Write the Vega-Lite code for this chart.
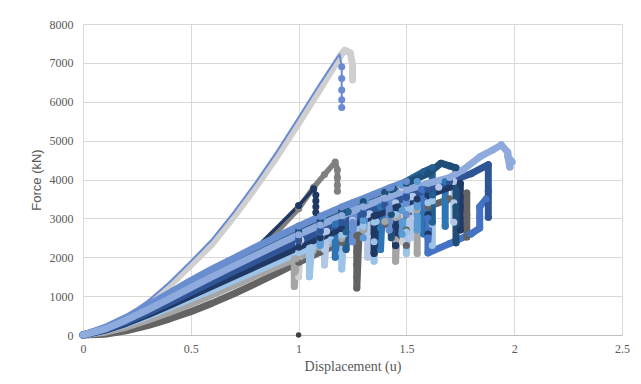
{
  "$schema": "https://vega.github.io/schema/vega-lite/v6.json",
  "width": 539,
  "height": 311,
  "autosize": "none",
  "padding": {"left": 83, "top": 24, "right": 19, "bottom": 49},
  "background": "white",
  "config": {"view": {"stroke": null}},
  "data": {"values": [
    {"s":"s01","x":0,"y":0},{"s":"s01","x":0.05,"y":40},{"s":"s01","x":0.1,"y":150},{"s":"s01","x":0.2,"y":430},{"s":"s01","x":0.3,"y":800},{"s":"s01","x":0.4,"y":1270},{"s":"s01","x":0.5,"y":1800},{"s":"s01","x":0.6,"y":2350},{"s":"s01","x":0.7,"y":3050},{"s":"s01","x":0.8,"y":3800},{"s":"s01","x":0.9,"y":4600},{"s":"s01","x":1.0,"y":5450},{"s":"s01","x":1.1,"y":6330},{"s":"s01","x":1.2,"y":7230},{"s":"s01","x":1.215,"y":7330},{"s":"s01","x":1.24,"y":7260},{"s":"s01","x":1.25,"y":6950},{"s":"s01","x":1.25,"y":6560},
    {"s":"s02","x":0,"y":0},{"s":"s02","x":0.05,"y":60},{"s":"s02","x":0.1,"y":180},{"s":"s02","x":0.2,"y":480},{"s":"s02","x":0.3,"y":870},{"s":"s02","x":0.4,"y":1350},{"s":"s02","x":0.5,"y":1900},{"s":"s02","x":0.6,"y":2470},{"s":"s02","x":0.7,"y":3170},{"s":"s02","x":0.8,"y":3920},{"s":"s02","x":0.9,"y":4730},{"s":"s02","x":1.0,"y":5600},{"s":"s02","x":1.1,"y":6480},{"s":"s02","x":1.18,"y":7150},{"s":"s02","x":1.19,"y":7220},{"s":"s02","x":1.2,"y":6900},{"s":"s02","x":1.2,"y":6600},{"s":"s02","x":1.2,"y":6300},{"s":"s02","x":1.2,"y":6050},{"s":"s02","x":1.2,"y":5850},
    {"s":"s03","x":0,"y":0},{"s":"s03","x":0.1,"y":80},{"s":"s03","x":0.2,"y":230},{"s":"s03","x":0.3,"y":430},{"s":"s03","x":0.4,"y":680},{"s":"s03","x":0.5,"y":960},{"s":"s03","x":0.6,"y":1290},{"s":"s03","x":0.7,"y":1650},{"s":"s03","x":0.77,"y":2000},{"s":"s03","x":0.85,"y":2420},{"s":"s03","x":0.91,"y":2720},{"s":"s03","x":1.0,"y":3250},{"s":"s03","x":1.07,"y":3800},{"s":"s03","x":1.12,"y":4130},{"s":"s03","x":1.17,"y":4450},{"s":"s03","x":1.18,"y":4250},{"s":"s03","x":1.18,"y":4050},{"s":"s03","x":1.18,"y":3850},{"s":"s03","x":1.18,"y":3700},
    {"s":"s04","x":0,"y":0},{"s":"s04","x":0.1,"y":100},{"s":"s04","x":0.2,"y":270},{"s":"s04","x":0.3,"y":480},{"s":"s04","x":0.4,"y":740},{"s":"s04","x":0.5,"y":1030},{"s":"s04","x":0.6,"y":1370},{"s":"s04","x":0.7,"y":1750},{"s":"s04","x":0.77,"y":2080},{"s":"s04","x":0.85,"y":2500},{"s":"s04","x":0.91,"y":2830},{"s":"s04","x":1.0,"y":3330},{"s":"s04","x":1.07,"y":3760},{"s":"s04","x":1.08,"y":3600},{"s":"s04","x":1.08,"y":3450},{"s":"s04","x":1.08,"y":3300},{"s":"s04","x":1.08,"y":3150},
    {"s":"s05","x":0,"y":0},{"s":"s05","x":0.1,"y":100},{"s":"s05","x":0.2,"y":260},{"s":"s05","x":0.3,"y":460},{"s":"s05","x":0.4,"y":690},{"s":"s05","x":0.5,"y":950},{"s":"s05","x":0.6,"y":1250},{"s":"s05","x":0.7,"y":1540},{"s":"s05","x":0.8,"y":1820},{"s":"s05","x":0.9,"y":2100},{"s":"s05","x":1.0,"y":2420},{"s":"s05","x":1.0,"y":1900},{"s":"s05","x":1.0,"y":1500},{"s":"s05","x":1.01,"y":2440},{"s":"s05","x":1.1,"y":2720},{"s":"s05","x":1.2,"y":3000},{"s":"s05","x":1.3,"y":3300},{"s":"s05","x":1.4,"y":3600},{"s":"s05","x":1.48,"y":3800},{"s":"s05","x":1.48,"y":3100},{"s":"s05","x":1.48,"y":2400},
    {"s":"s06","x":0,"y":0},{"s":"s06","x":0.1,"y":20},{"s":"s06","x":0.2,"y":110},{"s":"s06","x":0.3,"y":240},{"s":"s06","x":0.4,"y":410},{"s":"s06","x":0.5,"y":600},{"s":"s06","x":0.6,"y":820},{"s":"s06","x":0.7,"y":1060},{"s":"s06","x":0.8,"y":1320},{"s":"s06","x":0.9,"y":1590},{"s":"s06","x":1.0,"y":1870},{"s":"s06","x":1.1,"y":2130},{"s":"s06","x":1.2,"y":2380},{"s":"s06","x":1.27,"y":2550},{"s":"s06","x":1.27,"y":2150},{"s":"s06","x":1.27,"y":1800},{"s":"s06","x":1.27,"y":1500},{"s":"s06","x":1.27,"y":1210},{"s":"s06","x":1.28,"y":2570},{"s":"s06","x":1.4,"y":2850},{"s":"s06","x":1.5,"y":3080},{"s":"s06","x":1.5,"y":2700},{"s":"s06","x":1.5,"y":2300},{"s":"s06","x":1.51,"y":3100},{"s":"s06","x":1.6,"y":3300},{"s":"s06","x":1.7,"y":3500},{"s":"s06","x":1.78,"y":3650},{"s":"s06","x":1.78,"y":3100},{"s":"s06","x":1.78,"y":2520},
    {"s":"s07","x":0,"y":0},{"s":"s07","x":0.1,"y":70},{"s":"s07","x":0.2,"y":200},{"s":"s07","x":0.3,"y":380},{"s":"s07","x":0.4,"y":580},{"s":"s07","x":0.5,"y":800},{"s":"s07","x":0.6,"y":1030},{"s":"s07","x":0.7,"y":1270},{"s":"s07","x":0.8,"y":1520},{"s":"s07","x":0.9,"y":1760},{"s":"s07","x":0.98,"y":1950},{"s":"s07","x":0.98,"y":1600},{"s":"s07","x":0.98,"y":1250},{"s":"s07","x":0.99,"y":1970},{"s":"s07","x":1.1,"y":2250},{"s":"s07","x":1.2,"y":2480},{"s":"s07","x":1.3,"y":2700},{"s":"s07","x":1.4,"y":2920},{"s":"s07","x":1.45,"y":3020},{"s":"s07","x":1.45,"y":2450},{"s":"s07","x":1.45,"y":1900},{"s":"s07","x":1.46,"y":3040},{"s":"s07","x":1.55,"y":3220},{"s":"s07","x":1.55,"y":2650},{"s":"s07","x":1.55,"y":2100},
    {"s":"s08","x":0,"y":0},{"s":"s08","x":0.1,"y":110},{"s":"s08","x":0.2,"y":280},{"s":"s08","x":0.3,"y":480},{"s":"s08","x":0.4,"y":700},{"s":"s08","x":0.5,"y":930},{"s":"s08","x":0.6,"y":1160},{"s":"s08","x":0.7,"y":1400},{"s":"s08","x":0.8,"y":1640},{"s":"s08","x":0.9,"y":1880},{"s":"s08","x":1.0,"y":2120},{"s":"s08","x":1.05,"y":2230},{"s":"s08","x":1.05,"y":1850},{"s":"s08","x":1.05,"y":1500},{"s":"s08","x":1.06,"y":2250},{"s":"s08","x":1.15,"y":2450},{"s":"s08","x":1.2,"y":2570},{"s":"s08","x":1.2,"y":2100},{"s":"s08","x":1.2,"y":1700},{"s":"s08","x":1.21,"y":2590},{"s":"s08","x":1.3,"y":2800},{"s":"s08","x":1.35,"y":2900},{"s":"s08","x":1.35,"y":2400},{"s":"s08","x":1.35,"y":1900},{"s":"s08","x":1.36,"y":2920},{"s":"s08","x":1.45,"y":3100},{"s":"s08","x":1.5,"y":3200},{"s":"s08","x":1.5,"y":2650},{"s":"s08","x":1.5,"y":2100},{"s":"s08","x":1.51,"y":3220},{"s":"s08","x":1.6,"y":3400},{"s":"s08","x":1.62,"y":3450},{"s":"s08","x":1.62,"y":2850},{"s":"s08","x":1.62,"y":2300},
    {"s":"s09","x":0,"y":0},{"s":"s09","x":0.1,"y":130},{"s":"s09","x":0.2,"y":330},{"s":"s09","x":0.3,"y":560},{"s":"s09","x":0.4,"y":800},{"s":"s09","x":0.5,"y":1050},{"s":"s09","x":0.6,"y":1300},{"s":"s09","x":0.7,"y":1560},{"s":"s09","x":0.8,"y":1820},{"s":"s09","x":0.9,"y":2080},{"s":"s09","x":1.0,"y":2350},{"s":"s09","x":1.12,"y":2650},{"s":"s09","x":1.12,"y":2200},{"s":"s09","x":1.12,"y":1800},{"s":"s09","x":1.13,"y":2670},{"s":"s09","x":1.25,"y":2950},{"s":"s09","x":1.32,"y":3100},{"s":"s09","x":1.32,"y":2550},{"s":"s09","x":1.32,"y":2000},{"s":"s09","x":1.33,"y":3120},{"s":"s09","x":1.45,"y":3400},{"s":"s09","x":1.52,"y":3550},{"s":"s09","x":1.52,"y":3000},{"s":"s09","x":1.52,"y":2500},{"s":"s09","x":1.53,"y":3570},{"s":"s09","x":1.65,"y":3800},{"s":"s09","x":1.72,"y":3950},{"s":"s09","x":1.72,"y":3400},{"s":"s09","x":1.72,"y":2900},
    {"s":"s10","x":0,"y":0},{"s":"s10","x":0.1,"y":150},{"s":"s10","x":0.2,"y":370},{"s":"s10","x":0.3,"y":620},{"s":"s10","x":0.4,"y":880},{"s":"s10","x":0.5,"y":1150},{"s":"s10","x":0.6,"y":1420},{"s":"s10","x":0.7,"y":1690},{"s":"s10","x":0.8,"y":1950},{"s":"s10","x":0.9,"y":2200},{"s":"s10","x":1.0,"y":2450},{"s":"s10","x":1.1,"y":2680},{"s":"s10","x":1.17,"y":2850},{"s":"s10","x":1.17,"y":2400},{"s":"s10","x":1.17,"y":2000},{"s":"s10","x":1.18,"y":2870},{"s":"s10","x":1.3,"y":3120},{"s":"s10","x":1.38,"y":3300},{"s":"s10","x":1.38,"y":2750},{"s":"s10","x":1.38,"y":2200},{"s":"s10","x":1.39,"y":3320},{"s":"s10","x":1.5,"y":3550},{"s":"s10","x":1.58,"y":3720},{"s":"s10","x":1.58,"y":3150},{"s":"s10","x":1.58,"y":2600},{"s":"s10","x":1.59,"y":3740},{"s":"s10","x":1.68,"y":3950},{"s":"s10","x":1.68,"y":3400},{"s":"s10","x":1.68,"y":2800},
    {"s":"s11","x":0,"y":0},{"s":"s11","x":0.1,"y":120},{"s":"s11","x":0.2,"y":300},{"s":"s11","x":0.3,"y":520},{"s":"s11","x":0.4,"y":760},{"s":"s11","x":0.5,"y":1010},{"s":"s11","x":0.6,"y":1260},{"s":"s11","x":0.7,"y":1510},{"s":"s11","x":0.8,"y":1760},{"s":"s11","x":0.9,"y":2010},{"s":"s11","x":1.0,"y":2260},{"s":"s11","x":1.1,"y":2500},{"s":"s11","x":1.2,"y":2740},{"s":"s11","x":1.3,"y":2960},{"s":"s11","x":1.35,"y":3060},{"s":"s11","x":1.35,"y":2600},{"s":"s11","x":1.35,"y":2100},{"s":"s11","x":1.36,"y":3080},{"s":"s11","x":1.45,"y":3280},{"s":"s11","x":1.45,"y":2800},{"s":"s11","x":1.45,"y":2300},{"s":"s11","x":1.46,"y":3300},{"s":"s11","x":1.55,"y":3500},{"s":"s11","x":1.6,"y":3600},{"s":"s11","x":1.6,"y":3100},{"s":"s11","x":1.6,"y":2600},{"s":"s11","x":1.61,"y":3620},{"s":"s11","x":1.7,"y":3800},{"s":"s11","x":1.75,"y":3900},{"s":"s11","x":1.75,"y":3300},{"s":"s11","x":1.75,"y":2700},
    {"s":"s12","x":0,"y":0},{"s":"s12","x":0.1,"y":140},{"s":"s12","x":0.2,"y":350},{"s":"s12","x":0.3,"y":600},{"s":"s12","x":0.4,"y":880},{"s":"s12","x":0.5,"y":1150},{"s":"s12","x":0.6,"y":1430},{"s":"s12","x":0.7,"y":1700},{"s":"s12","x":0.8,"y":1970},{"s":"s12","x":0.9,"y":2230},{"s":"s12","x":1.0,"y":2480},{"s":"s12","x":1.1,"y":2730},{"s":"s12","x":1.2,"y":2950},{"s":"s12","x":1.3,"y":3180},{"s":"s12","x":1.4,"y":3400},{"s":"s12","x":1.5,"y":3600},{"s":"s12","x":1.57,"y":3750},{"s":"s12","x":1.6,"y":3000},{"s":"s12","x":1.6,"y":2500},{"s":"s12","x":1.6,"y":2110},{"s":"s12","x":1.7,"y":2350},{"s":"s12","x":1.8,"y":2600},{"s":"s12","x":1.84,"y":2750},{"s":"s12","x":1.84,"y":3050},{"s":"s12","x":1.84,"y":3300},{"s":"s12","x":1.87,"y":3500},
    {"s":"s13","x":0,"y":0},{"s":"s13","x":0.1,"y":170},{"s":"s13","x":0.2,"y":420},{"s":"s13","x":0.3,"y":720},{"s":"s13","x":0.4,"y":1030},{"s":"s13","x":0.5,"y":1350},{"s":"s13","x":0.6,"y":1650},{"s":"s13","x":0.7,"y":1950},{"s":"s13","x":0.8,"y":2230},{"s":"s13","x":0.9,"y":2500},{"s":"s13","x":1.0,"y":2780},{"s":"s13","x":1.1,"y":3000},{"s":"s13","x":1.1,"y":2650},{"s":"s13","x":1.1,"y":2300},{"s":"s13","x":1.11,"y":3010},{"s":"s13","x":1.2,"y":3200},{"s":"s13","x":1.3,"y":3430},{"s":"s13","x":1.3,"y":2950},{"s":"s13","x":1.3,"y":2500},{"s":"s13","x":1.31,"y":3440},{"s":"s13","x":1.4,"y":3650},{"s":"s13","x":1.48,"y":3850},{"s":"s13","x":1.48,"y":3200},{"s":"s13","x":1.48,"y":2600},{"s":"s13","x":1.49,"y":3860},{"s":"s13","x":1.55,"y":3950},{"s":"s13","x":1.55,"y":3300},{"s":"s13","x":1.55,"y":2700},
    {"s":"s14","x":0,"y":0},{"s":"s14","x":0.1,"y":150},{"s":"s14","x":0.2,"y":380},{"s":"s14","x":0.3,"y":650},{"s":"s14","x":0.4,"y":940},{"s":"s14","x":0.5,"y":1230},{"s":"s14","x":0.6,"y":1520},{"s":"s14","x":0.7,"y":1800},{"s":"s14","x":0.8,"y":2070},{"s":"s14","x":0.9,"y":2330},{"s":"s14","x":1.0,"y":2600},{"s":"s14","x":1.1,"y":2850},{"s":"s14","x":1.2,"y":3100},{"s":"s14","x":1.22,"y":3150},{"s":"s14","x":1.22,"y":2650},{"s":"s14","x":1.22,"y":2200},{"s":"s14","x":1.23,"y":3170},{"s":"s14","x":1.4,"y":3650},{"s":"s14","x":1.5,"y":3950},{"s":"s14","x":1.58,"y":4200},{"s":"s14","x":1.62,"y":4300},{"s":"s14","x":1.62,"y":3600},{"s":"s14","x":1.62,"y":2900},
    {"s":"s15","x":0,"y":0},{"s":"s15","x":0.1,"y":160},{"s":"s15","x":0.2,"y":400},{"s":"s15","x":0.3,"y":680},{"s":"s15","x":0.4,"y":980},{"s":"s15","x":0.5,"y":1280},{"s":"s15","x":0.6,"y":1570},{"s":"s15","x":0.7,"y":1860},{"s":"s15","x":0.8,"y":2140},{"s":"s15","x":0.9,"y":2410},{"s":"s15","x":1.0,"y":2680},{"s":"s15","x":1.1,"y":2940},{"s":"s15","x":1.2,"y":3190},{"s":"s15","x":1.3,"y":3430},{"s":"s15","x":1.4,"y":3670},{"s":"s15","x":1.43,"y":3740},{"s":"s15","x":1.43,"y":3100},{"s":"s15","x":1.43,"y":2500},{"s":"s15","x":1.44,"y":3760},{"s":"s15","x":1.5,"y":3900},{"s":"s15","x":1.6,"y":4150},{"s":"s15","x":1.66,"y":4420},{"s":"s15","x":1.7,"y":4350},{"s":"s15","x":1.73,"y":4300},{"s":"s15","x":1.73,"y":3300},{"s":"s15","x":1.73,"y":2370},
    {"s":"s16","x":0,"y":0},{"s":"s16","x":0.1,"y":130},{"s":"s16","x":0.2,"y":330},{"s":"s16","x":0.3,"y":570},{"s":"s16","x":0.4,"y":830},{"s":"s16","x":0.5,"y":1100},{"s":"s16","x":0.6,"y":1370},{"s":"s16","x":0.7,"y":1640},{"s":"s16","x":0.8,"y":1900},{"s":"s16","x":0.9,"y":2160},{"s":"s16","x":1.0,"y":2420},{"s":"s16","x":1.1,"y":2660},{"s":"s16","x":1.2,"y":2890},{"s":"s16","x":1.3,"y":3110},{"s":"s16","x":1.4,"y":3330},{"s":"s16","x":1.5,"y":3540},{"s":"s16","x":1.6,"y":3750},{"s":"s16","x":1.7,"y":3950},{"s":"s16","x":1.8,"y":4150},{"s":"s16","x":1.88,"y":4380},{"s":"s16","x":1.88,"y":3700},{"s":"s16","x":1.88,"y":3030},
    {"s":"s17","x":0,"y":0},{"s":"s17","x":0.1,"y":190},{"s":"s17","x":0.2,"y":450},{"s":"s17","x":0.3,"y":760},{"s":"s17","x":0.4,"y":1080},{"s":"s17","x":0.5,"y":1400},{"s":"s17","x":0.6,"y":1700},{"s":"s17","x":0.7,"y":1980},{"s":"s17","x":0.8,"y":2260},{"s":"s17","x":0.9,"y":2530},{"s":"s17","x":1.0,"y":2800},{"s":"s17","x":1.1,"y":3050},{"s":"s17","x":1.2,"y":3290},{"s":"s17","x":1.25,"y":3400},{"s":"s17","x":1.25,"y":2900},{"s":"s17","x":1.25,"y":2400},{"s":"s17","x":1.26,"y":3420},{"s":"s17","x":1.35,"y":3620},{"s":"s17","x":1.42,"y":3780},{"s":"s17","x":1.42,"y":3250},{"s":"s17","x":1.42,"y":2700},{"s":"s17","x":1.43,"y":3800},{"s":"s17","x":1.5,"y":3950},{"s":"s17","x":1.5,"y":3100},
    {"s":"s18","x":0,"y":0},{"s":"s18","x":0.1,"y":150},{"s":"s18","x":0.2,"y":380},{"s":"s18","x":0.3,"y":650},{"s":"s18","x":0.4,"y":930},{"s":"s18","x":0.5,"y":1220},{"s":"s18","x":0.6,"y":1500},{"s":"s18","x":0.7,"y":1780},{"s":"s18","x":0.8,"y":2050},{"s":"s18","x":0.9,"y":2320},{"s":"s18","x":1.0,"y":2580},{"s":"s18","x":1.1,"y":2830},{"s":"s18","x":1.2,"y":3070},{"s":"s18","x":1.3,"y":3300},{"s":"s18","x":1.4,"y":3520},{"s":"s18","x":1.5,"y":3730},{"s":"s18","x":1.6,"y":3900},{"s":"s18","x":1.7,"y":4050},{"s":"s18","x":1.76,"y":4240},{"s":"s18","x":1.84,"y":4580},{"s":"s18","x":1.9,"y":4760},{"s":"s18","x":1.94,"y":4890},{"s":"s18","x":1.97,"y":4700},{"s":"s18","x":1.98,"y":4320},{"s":"s18","x":1.97,"y":4600},{"s":"s18","x":1.99,"y":4450},
    {"s":"s19","x":1.0,"y":0}
  ]},
  "encoding": {
    "x": {
      "field": "x", "type": "quantitative",
      "scale": {"domain": [0, 2.5], "nice": false},
      "axis": {
        "title": "Displacement  (u)", "values": [0, 0.5, 1, 1.5, 2, 2.5], "format": "~g",
        "grid": true, "gridColor": "#d9d9d9", "domainColor": "#bfbfbf", "ticks": false, "labelFlush": false,
        "labelFont": "Liberation Serif", "labelFontSize": 12, "labelColor": "#595959", "labelPadding": 8,
        "titleFont": "Liberation Serif", "titleFontSize": 14, "titleFontWeight": "normal", "titleColor": "#595959", "titlePadding": 5
      }
    },
    "y": {
      "field": "y", "type": "quantitative",
      "scale": {"domain": [0, 8000], "nice": false},
      "axis": {
        "title": "Force (kN)", "values": [0, 1000, 2000, 3000, 4000, 5000, 6000, 7000, 8000], "format": "d",
        "grid": true, "gridColor": "#d9d9d9", "domain": false, "ticks": false, "labelFlush": false,
        "labelFont": "Liberation Serif", "labelFontSize": 12, "labelColor": "#595959", "labelPadding": 10,
        "titleFont": "Liberation Sans", "titleFontSize": 13, "titleFontWeight": "normal", "titleColor": "#595959", "titlePadding": 6
      }
    },
    "color": {
      "field": "s", "type": "nominal", "legend": null,
      "scale": {
        "domain": ["s01","s02","s03","s04","s05","s06","s07","s08","s09","s10","s11","s12","s13","s14","s15","s16","s17","s18","s19"],
        "range": ["#cfcfcf","#6a8bd4","#808080","#203864","#d0d0d0","#636363","#a5a5a5","#9dc3e6","#b4c7e7","#2e75b6","#203864","#4472c4","#5b9bd5","#255e91","#1f4e79","#2f5597","#698ed0","#8faadc","#404040"]
      }
    },
    "order": {"value": null}
  },
  "layer": [
    {
      "transform": [{"filter": "datum.s == 's01'"}],
      "mark": {"type": "line", "strokeWidth": 7, "strokeCap": "round", "strokeJoin": "round"}
    },
    {
      "transform": [{"filter": "datum.s == 's02'"}],
      "mark": {"type": "line", "strokeWidth": 2, "strokeCap": "round", "strokeJoin": "round"}
    },
    {
      "transform": [{"filter": "datum.s == 's03'"}],
      "mark": {"type": "line", "strokeWidth": 5.5, "strokeCap": "round", "strokeJoin": "round"}
    },
    {
      "transform": [{"filter": "datum.s == 's04'"}],
      "mark": {"type": "line", "strokeWidth": 3.5, "strokeCap": "round", "strokeJoin": "round"}
    },
    {
      "transform": [{"filter": "datum.s != 's01' && datum.s != 's02' && datum.s != 's03' && datum.s != 's04' && datum.s != 's19'"}],
      "mark": {"type": "line", "strokeWidth": 7, "strokeCap": "round", "strokeJoin": "round"}
    },
    {
      "transform": [{"filter": "datum.s != 's01' && datum.s != 's19' && (datum.s != 's02' || datum.x >= 1.195) && datum.x >= 0.95"}],
      "mark": {"type": "circle", "size": 50, "opacity": 1}
    },
    {
      "transform": [{"filter": "datum.s == 's19'"}],
      "mark": {"type": "circle", "size": 30, "opacity": 1}
    }
  ]
}
